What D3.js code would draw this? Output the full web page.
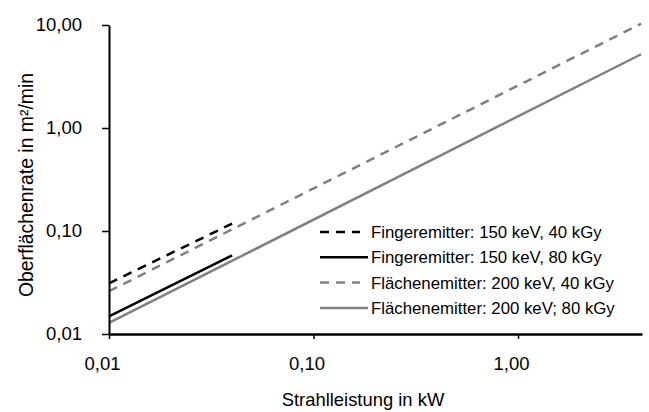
<!DOCTYPE html>
<html>
<head>
<meta charset="utf-8">
<script src="https://cdn.jsdelivr.net/npm/d3@7"></script>
<style>
  body { margin: 0; background: #fff; }
  svg text { font-family: "Liberation Sans", Arial, sans-serif; fill: #000; }
</style>
</head>
<body>
<div class="chart"></div>
<script>
// data (log-log, straight lines)
const seriesNames = [
  "Fingeremitter: 150 keV, 40 kGy",
  "Fingeremitter: 150 keV, 80 kGy",
  "Flächenemitter: 200 keV, 40 kGy",
  "Flächenemitter: 200 keV; 80 kGy"
];
const fingerPower = [0.01, 0.04];
const flaechePower = [0.01, 4.0];
const finger40 = [0.031, 0.118];
const finger80 = [0.0148, 0.058];
const flaeche40 = [0.026, 10.3];
const flaeche80 = [0.0128, 5.2];
const xTicks = [0.01, 0.1, 1];
const yTicks = [0.01, 0.1, 1, 10];

const series = [
  {name: seriesNames[0], x: fingerPower, y: finger40, color: "#000", dash: "9,7"},
  {name: seriesNames[1], x: fingerPower, y: finger80, color: "#000", dash: null},
  {name: seriesNames[2], x: flaechePower, y: flaeche40, color: "#808080", dash: "9,7"},
  {name: seriesNames[3], x: flaechePower, y: flaeche80, color: "#808080", dash: null}
];

const margin = ({top: 25, right: 7, bottom: 78, left: 109});
const width = 649 - margin.left - margin.right;
const height = 412 - margin.top - margin.bottom;

const de = d3.formatLocale({decimal: ",", thousands: ".", grouping: [3], currency: ["", " €"]});
const fmt = de.format(".2f");

const svg = d3.select(".chart").append("svg")
  .attr("width", 649)
  .attr("height", 412);

const plot = svg.append("g")
  .attr("transform", "translate(" + margin.left + "," + margin.top + ")");

const xScale = d3.scaleLog()
  .domain([0.01, 4.04])
  .range([0, width]);

const yScale = d3.scaleLog()
  .domain([0.01, 10])
  .range([height, 0]);

const line = d3.line()
  .x(d => xScale(d[0]))
  .y(d => yScale(d[1]));

plot.selectAll("path.series")
  .data(series)
  .enter()
  .append("path")
  .attr("class", "series")
  .attr("d", s => line(s.x.map((v, i) => [v, s.y[i]])))
  .attr("fill", "none")
  .attr("stroke", s => s.color)
  .attr("stroke-width", 2.5)
  .attr("stroke-dasharray", s => s.dash);

const xAxis = d3.axisBottom(xScale)
  .tickValues(xTicks)
  .tickFormat(fmt)
  .tickSize(5)
  .tickSizeOuter(0)
  .tickPadding(18);

const yAxis = d3.axisLeft(yScale)
  .tickValues(yTicks)
  .tickFormat(fmt)
  .tickSize(7)
  .tickSizeOuter(0)
  .tickPadding(20);

const gy = plot.append("g")
  .attr("class", "axis y-axis")
  .call(yAxis);

const gx = plot.append("g")
  .attr("class", "axis x-axis")
  .attr("transform", `translate(0, ${height})`)
  .call(xAxis);

gx.select(".domain").attr("stroke-width", 2.5);
gy.select(".domain").attr("stroke-width", 2);
svg.selectAll(".tick line").attr("stroke-width", 1.5);
svg.selectAll(".tick text")
  .attr("font-family", "'Liberation Sans', Arial, sans-serif")
  .attr("font-size", "18.5px");
gx.selectAll(".tick text").attr("dx", -7);

// legend
const legend = svg.append("g")
  .attr("transform", "translate(320, 232)");

const item = legend.selectAll("g")
  .data(series)
  .enter()
  .append("g")
  .attr("transform", (d, i) => `translate(0, ${i * 25.3})`);

item.append("line")
  .attr("x1", 0)
  .attr("x2", d => d.dash ? 40 : 48)
  .attr("stroke", d => d.color)
  .attr("stroke-width", 2.5)
  .attr("stroke-dasharray", d => d.dash);

item.append("text")
  .attr("x", 51)
  .attr("y", 6)
  .attr("font-size", "16.8px")
  .text(d => d.name);

// axis titles
svg.append("text")
  .attr("x", 363)
  .attr("y", 406)
  .attr("text-anchor", "middle")
  .attr("font-size", "18.4px")
  .text("Strahlleistung in kW");

svg.append("text")
  .attr("transform", "translate(33, 185) rotate(-90)")
  .attr("text-anchor", "middle")
  .attr("font-size", "19.4px")
  .text("Oberflächenrate in m²/min");
</script>
</body>
</html>
